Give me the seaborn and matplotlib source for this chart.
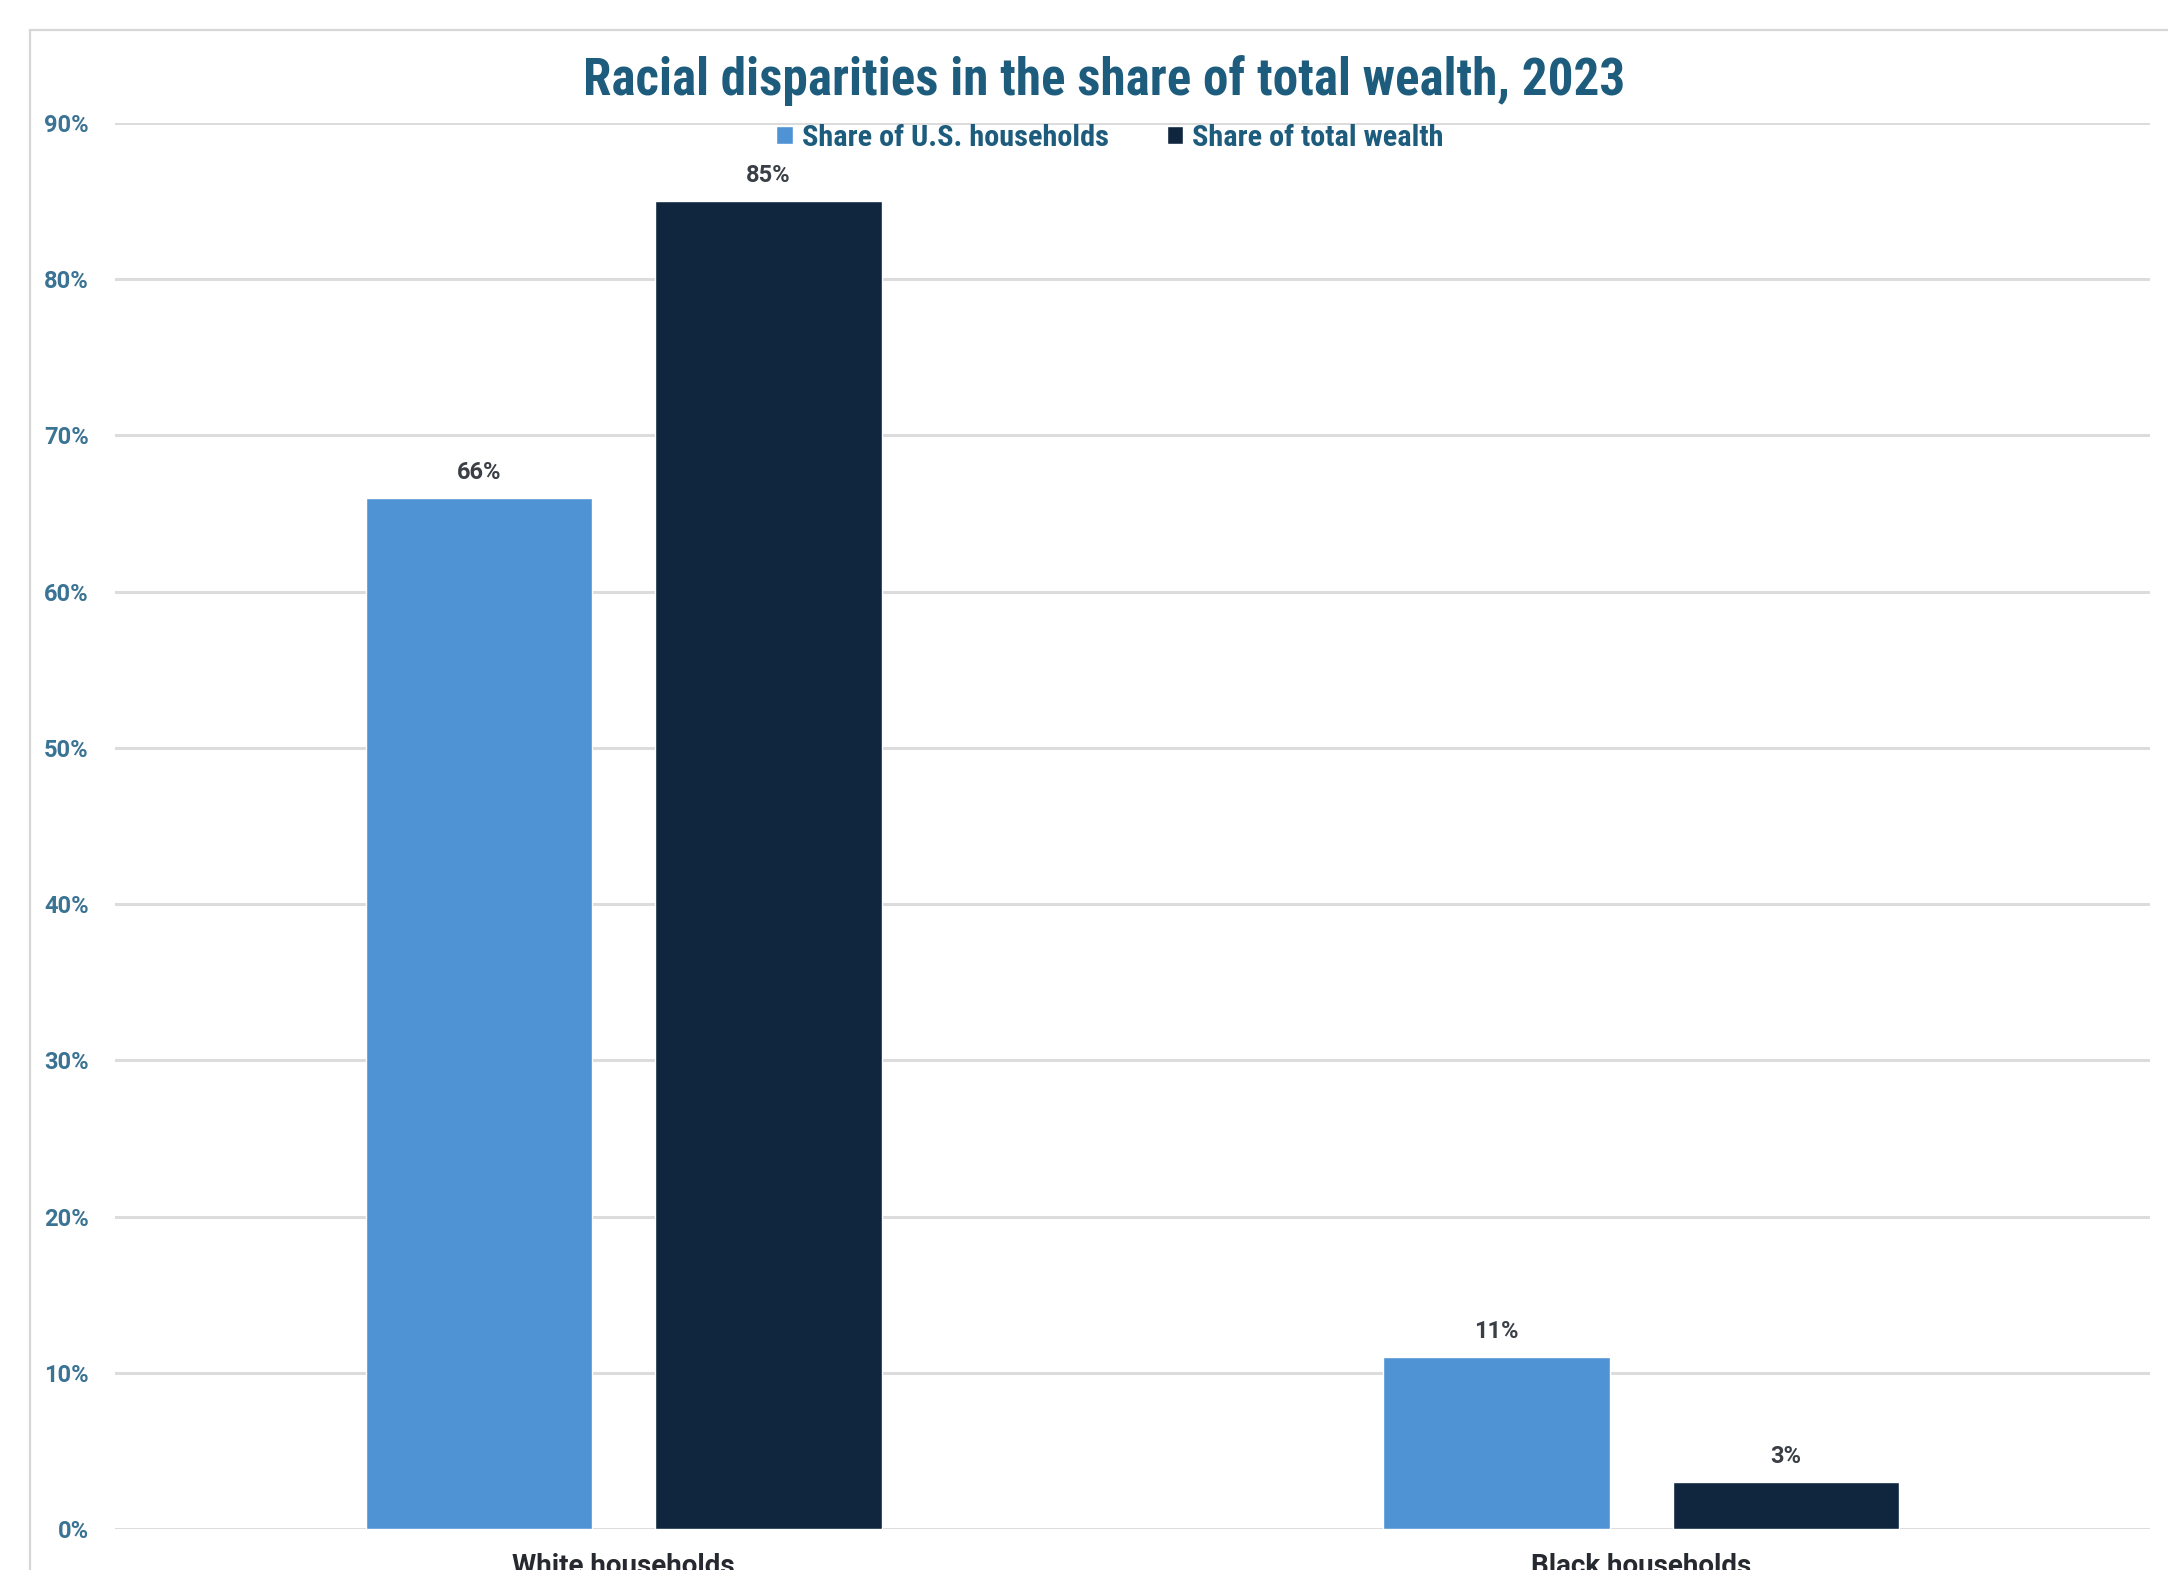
import matplotlib
matplotlib.use("Agg")
import matplotlib.pyplot as plt
from matplotlib import font_manager
from matplotlib.patches import Rectangle
from matplotlib.ticker import FuncFormatter
import pandas as pd
import seaborn as sns

# ---- data ----
groups = ["White households", "Black households"]
series = ["Share of U.S. households", "Share of total wealth"]
share_households = [66, 11]
share_wealth = [85, 3]
y_ticks = [0, 10, 20, 30, 40, 50, 60, 70, 80, 90]
title = "Racial disparities in the share of total wealth, 2023"

# ---- styling ----
BLUE = "#4f93d5"
NAVY = "#10263e"
TEAL = "#1d5c7c"
TICK_TEAL = "#3a7393"
LABEL_DARK = "#3a3f46"
GRID = "#dcdcdc"

sns.set_theme(style="white")
available = {f.name for f in font_manager.fontManager.ttflist}


def pick(cands):
    return next(n for n in cands if n in available)


narrow = pick(["Roboto Condensed", "Liberation Sans Narrow", "DejaVu Sans Condensed",
               "Roboto", "DejaVu Sans"])
regular = pick(["Roboto", "Open Sans", "DejaVu Sans"])
plt.rcParams["font.family"] = [narrow, "DejaVu Sans"]

df = pd.DataFrame({
    "group": groups * 2,
    "series": [series[0]] * len(groups) + [series[1]] * len(groups),
    "share": share_households + share_wealth,
})

W, H, DPI = 2168, 1570, 100
fig = plt.figure(figsize=(W / DPI, H / DPI), dpi=DPI, facecolor="white")
ax = fig.add_axes([115 / W, 41 / H, (2150 - 115) / W, (1529 - 123) / H])

sns.barplot(data=df, x="group", y="share", hue="series", order=groups,
            hue_order=series, palette=[BLUE, NAVY], saturation=1,
            width=0.569, gap=0.216, errorbar=None, ax=ax)

ax.set_xlim(-0.5, 1.5)
ax.set_ylim(0, 90)
ax.set_yticks(y_ticks)
ax.yaxis.set_major_formatter(FuncFormatter(lambda v, p: f"{v:.0f}%"))
ax.grid(axis="y", color=GRID, linewidth=2.2)
ax.grid(axis="x", visible=False)
ax.set_axisbelow(True)
for s in ax.spines.values():
    s.set_visible(False)
ax.set_xlabel("")
ax.set_ylabel("")
ax.tick_params(axis="y", length=0, pad=19, labelsize=17, labelcolor=TICK_TEAL)
ax.tick_params(axis="x", length=0, pad=17, labelsize=20, labelcolor="#262a30")
for lab in ax.get_yticklabels() + ax.get_xticklabels():
    lab.set_fontweight("bold")
    lab.set_fontfamily([regular, "DejaVu Sans"])

# value labels above bars
for cont, vals in zip(ax.containers, [share_households, share_wealth]):
    ax.bar_label(cont, labels=[f"{v:.0f}%" for v in vals], padding=10,
                 fontsize=17, fontweight="bold", color=LABEL_DARK,
                 fontfamily=[regular, "DejaVu Sans"])

# legend
handles, labels = ax.get_legend_handles_labels()
if ax.get_legend() is not None:
    ax.get_legend().remove()
fig.legend(handles, labels, loc="center", bbox_to_anchor=(1110 / W, 1 - 138 / H),
           ncol=2, frameon=False, handlelength=0.55, handleheight=0.55,
           handletextpad=0.3, columnspacing=1.9, labelcolor=TEAL,
           prop={"weight": "bold", "size": 21.8, "family": [narrow, "DejaVu Sans"]})

# title, sized to span its measured width
t = fig.text(1104 / W, 1 - 95 / H, title, ha="center", va="baseline",
             fontsize=32, fontweight="bold", color=TEAL)
renderer = fig.canvas.get_renderer()
w = t.get_window_extent(renderer).width
t.set_fontsize(32 * 1042 / w)

# light frame around the chart area
fig.patches.append(Rectangle((30 / W, -0.05), 1.1, 1 - 30 / H + 0.05,
                             transform=fig.transFigure, fill=False,
                             edgecolor="#d6d6d6", linewidth=1.6, clip_on=False))

fig.savefig("out.png", dpi=DPI, facecolor="white")
